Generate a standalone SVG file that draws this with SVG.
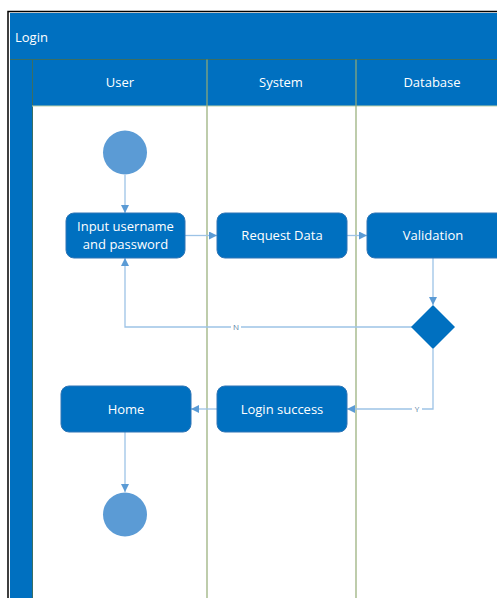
<svg xmlns="http://www.w3.org/2000/svg" width="497" height="598" viewBox="0 0 497 598">
<defs>
<style>
.lbl{font-family:"Segoe UI","Open Sans","Noto Sans",sans-serif;font-size:13px;fill:#ffffff;text-anchor:middle}
.act{fill:#0070C0;stroke:#2E75B6;stroke-width:1}
.circ{fill:#5B9BD5}
.conn{fill:none;stroke:#9DC3E6;stroke-width:1.3}
.lane{stroke:#93AB74;stroke-width:1.2}
.small{font-family:"Segoe UI","Open Sans","Noto Sans",sans-serif;font-size:8px;fill:#5B7FA6;text-anchor:middle}
</style>
<marker id="arr" viewBox="0 0 10 10" refX="10" refY="5" markerWidth="8" markerHeight="8" markerUnits="userSpaceOnUse" orient="auto">
<path d="M0,0 L10,5 L0,10 z" fill="#5B9BD5"/>
</marker>
</defs>
<rect width="497" height="598" fill="#ffffff"/>
<g id="pool">
<rect x="8" y="11.5" width="495" height="600" fill="#ffffff" stroke="#000000" stroke-width="1.5"/>
<rect x="10" y="13" width="490" height="590" fill="#0070C0"/>
<rect x="32" y="106" width="470" height="500" fill="#ffffff"/>
<line x1="10" y1="59.5" x2="497" y2="59.5" stroke="#3B6E62" stroke-width="1"/>
<line x1="32.5" y1="59.5" x2="32.5" y2="598" stroke="#3B6E62" stroke-width="1"/>
<line x1="32" y1="106" x2="497" y2="106" stroke="#BFD3A8" stroke-width="1"/>
<text x="15" y="42" style="font-family:'Segoe UI','Open Sans','Noto Sans',sans-serif;font-size:13px;fill:#ffffff">Login</text>
</g>
<g id="lanes">
<line class="lane" x1="207" y1="59.5" x2="207" y2="598"/>
<line class="lane" x1="356" y1="59.5" x2="356" y2="598"/>
<text class="lbl" x="120" y="87">User</text>
<text class="lbl" x="281" y="87">System</text>
<text class="lbl" x="432" y="87">Database</text>
</g>
<g id="connectors">
<line class="conn" x1="125" y1="175" x2="125" y2="213" marker-end="url(#arr)"/>
<line class="conn" x1="185" y1="235.5" x2="217" y2="235.5" marker-end="url(#arr)"/>
<line class="conn" x1="347" y1="235.5" x2="367" y2="235.5" marker-end="url(#arr)"/>
<line class="conn" x1="433" y1="258" x2="433" y2="305" marker-end="url(#arr)"/>
<polyline class="conn" points="412,327 125,327 125,258" marker-end="url(#arr)"/>
<polyline class="conn" points="433,349 433,409 347,409" marker-end="url(#arr)"/>
<line class="conn" x1="217" y1="409" x2="191" y2="409" marker-end="url(#arr)"/>
<line class="conn" x1="125" y1="432" x2="125" y2="492" marker-end="url(#arr)"/>
<rect x="231" y="322" width="10" height="10" fill="#ffffff"/>
<text class="small" x="236" y="330">N</text>
<rect x="412" y="404" width="10" height="10" fill="#ffffff"/>
<text class="small" x="417" y="412">Y</text>
</g>
<g id="start"><circle class="circ" cx="125" cy="152.5" r="22"/></g>
<g id="input"><rect class="act" x="66" y="213" width="119" height="45" rx="8"/>
<text class="lbl" x="125.5" y="231">Input username</text>
<text class="lbl" x="125.5" y="249">and password</text></g>
<g id="request"><rect class="act" x="217" y="213" width="130" height="45" rx="8"/>
<text class="lbl" x="282" y="240">Request Data</text></g>
<g id="validation"><rect class="act" x="367" y="213" width="140" height="45" rx="8"/>
<text class="lbl" x="433" y="240">Validation</text></g>
<g id="decision"><polygon points="433,305 455,327 433,349 411,327" fill="#0070C0"/></g>
<g id="loginsuccess"><rect class="act" x="217" y="386" width="130" height="46" rx="8"/>
<text class="lbl" x="282" y="414">Login success</text></g>
<g id="home"><rect class="act" x="61" y="386" width="130" height="46" rx="8"/>
<text class="lbl" x="126" y="414">Home</text></g>
<g id="end"><circle class="circ" cx="125" cy="514.5" r="22"/></g>
</svg>
